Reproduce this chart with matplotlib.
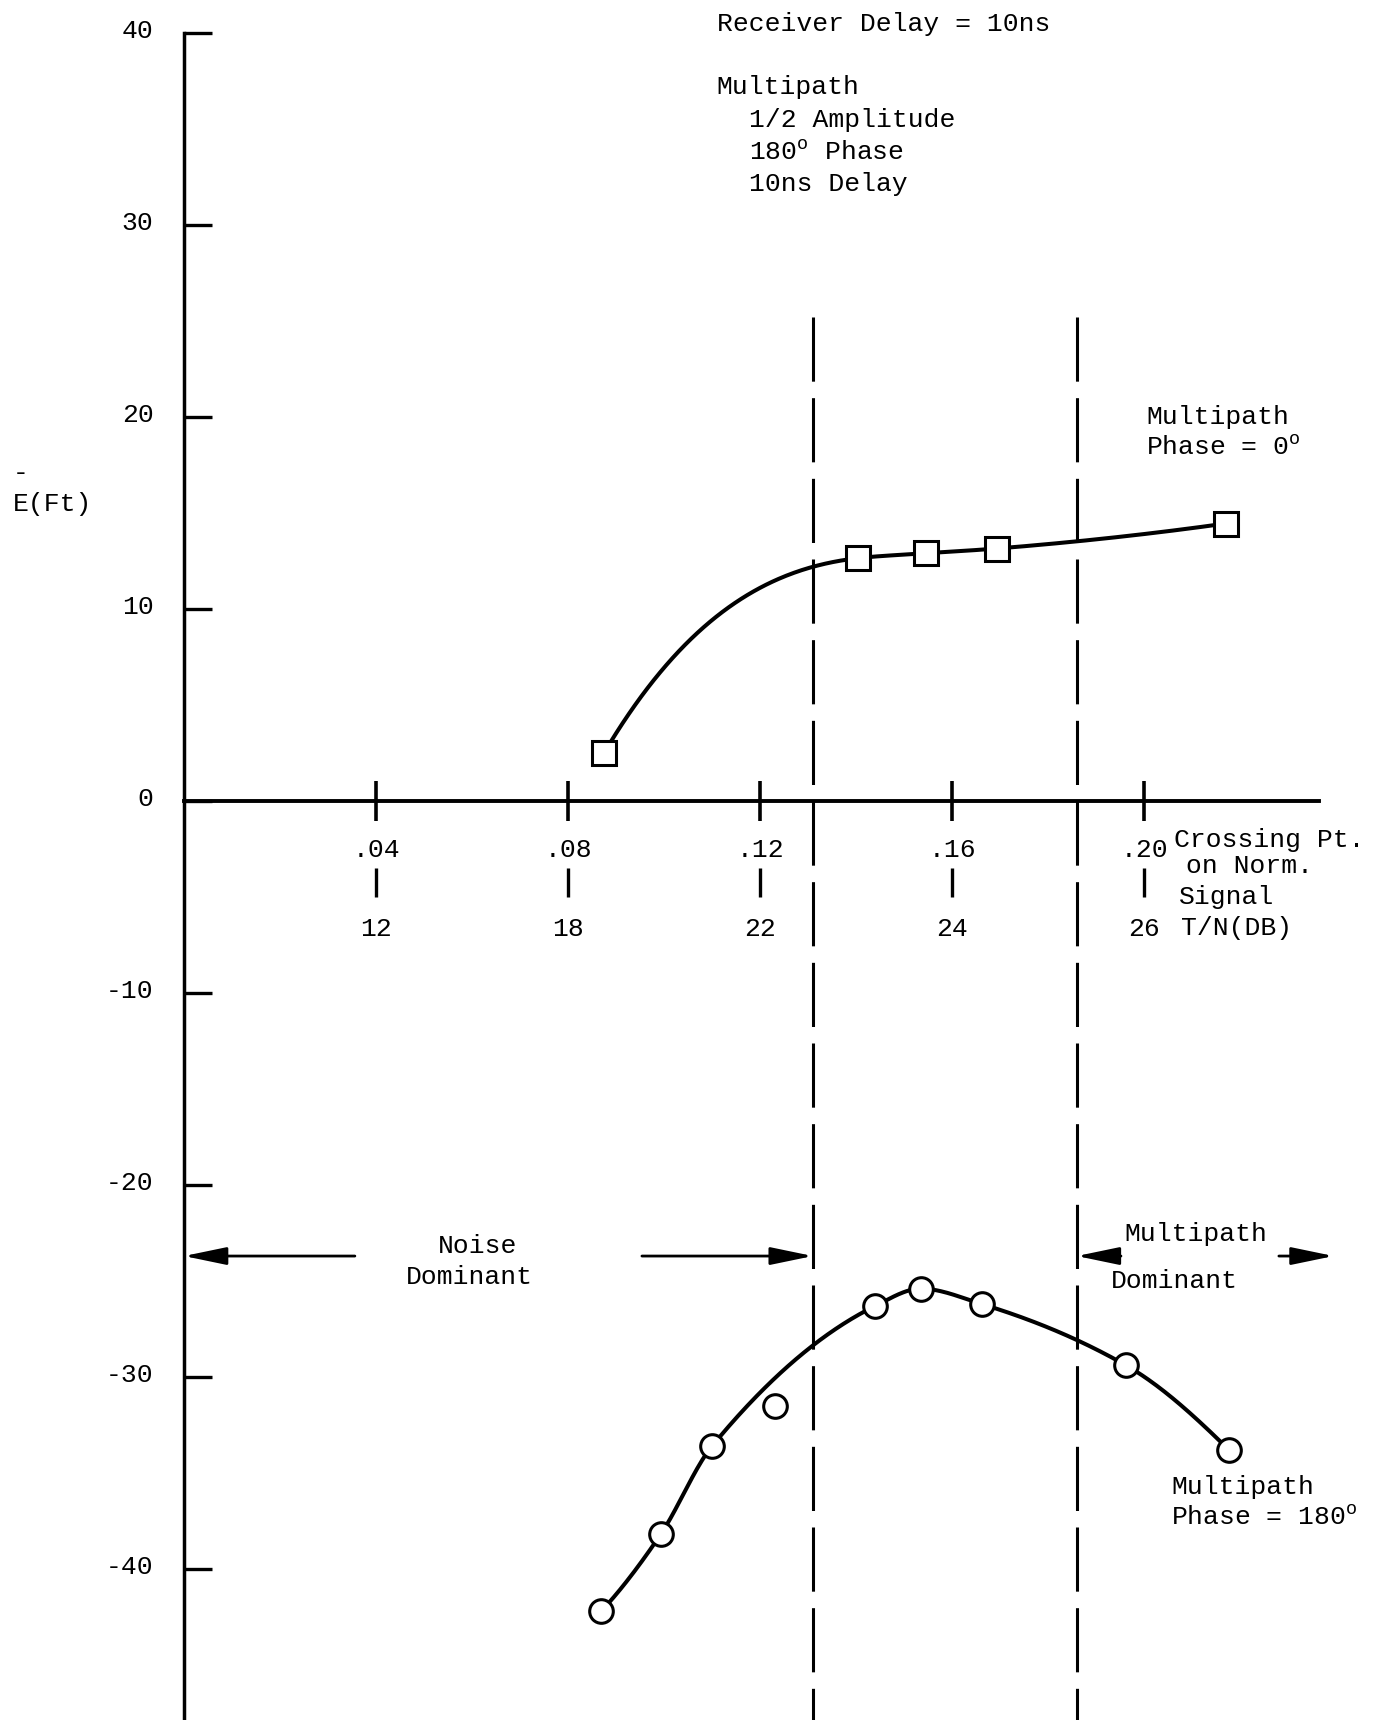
import numpy as np
import matplotlib
matplotlib.use("Agg")
import matplotlib.pyplot as plt
from matplotlib.transforms import ScaledTranslation

plt.rcParams["font.family"] = ["Liberation Mono", "DejaVu Sans Mono"]
plt.rcParams["mathtext.fontset"] = "custom"
plt.rcParams["mathtext.rm"] = "Liberation Mono"
plt.rcParams["axes.unicode_minus"] = False

# ---- data -------------------------------------------------------------
crossing_ticks = [0.04, 0.08, 0.12, 0.16, 0.20]
crossing_labels = [".04", ".08", ".12", ".16", ".20"]
tn_db_labels = ["12", "18", "22", "24", "26"]
err_ticks = [40, 30, 20, 10, 0, -10, -20, -30, -40]

# multipath phase = 0 deg (squares)
phase0_x = [0.0875, 0.1405, 0.1545, 0.1693, 0.2170]
phase0_err = [2.5, 12.65, 12.9, 13.15, 14.45]

# multipath phase = 180 deg (circles); one point lies off the faired curve
phase180_x = [0.0869, 0.0993, 0.1100, 0.1231, 0.1440, 0.1535, 0.1662, 0.1963, 0.2177]
phase180_err = [-42.2, -38.2, -33.6, -31.5, -26.3, -25.4, -26.2, -29.4, -33.8]
phase180_on_curve = [True, True, True, False, True, True, True, True, True]

# boundaries between noise-dominant and multipath-dominant regions
region_bounds = [0.131, 0.186]
region_arrow_err = -23.7


def pchip(x, y, xs, start_gain=None):
    """Shape-preserving piecewise cubic Hermite curve through (x, y).

    start_gain, if given, sets the tangent at the first point to that
    multiple of the first secant slope (a faster initial rise)."""
    x = np.asarray(x, float)
    y = np.asarray(y, float)
    h = np.diff(x)
    d = np.diff(y) / h
    n = len(x)
    m = np.zeros(n)
    for k in range(1, n - 1):
        if d[k - 1] * d[k] > 0:
            w1 = 2 * h[k] + h[k - 1]
            w2 = h[k] + 2 * h[k - 1]
            m[k] = (w1 + w2) / (w1 / d[k - 1] + w2 / d[k])

    def end(h0, h1, d0, d1):
        mm = ((2 * h0 + h1) * d0 - h0 * d1) / (h0 + h1)
        if np.sign(mm) != np.sign(d0):
            return 0.0
        if np.sign(d0) != np.sign(d1) and abs(mm) > abs(3 * d0):
            return 3 * d0
        return mm

    m[0] = end(h[0], h[1], d[0], d[1])
    if start_gain is not None:
        m[0] = start_gain * d[0]
    m[-1] = end(h[-1], h[-2], d[-1], d[-2])
    idx = np.clip(np.searchsorted(x, xs) - 1, 0, n - 2)
    t = (xs - x[idx]) / h[idx]
    h00 = 2 * t**3 - 3 * t**2 + 1
    h10 = t**3 - 2 * t**2 + t
    h01 = -2 * t**3 + 3 * t**2
    h11 = t**3 - t**2
    return (h00 * y[idx] + h10 * h[idx] * m[idx]
            + h01 * y[idx + 1] + h11 * h[idx] * m[idx + 1])


# ---- figure / axes ----------------------------------------------------
W, H = 1374, 1720
fig = plt.figure(figsize=(W / 100, H / 100), dpi=100)
ax = fig.add_axes([0, 0, 1, 1])
ax.patch.set_visible(False)

x_origin_px, y_origin_px = 184, 801
px_per_x, px_per_y = 4800.0, 19.2
xlim = (-x_origin_px / px_per_x, (W - x_origin_px) / px_per_x)
ylim = ((y_origin_px - H) / px_per_y, y_origin_px / px_per_y)
ax.set_xlim(*xlim)
ax.set_ylim(*ylim)

for s in ("top", "right"):
    ax.spines[s].set_visible(False)
ax.spines["left"].set_position(("data", 0))
ax.spines["bottom"].set_position(("data", 0))
ax.spines["left"].set_bounds(ylim[0], 40)
ax.spines["bottom"].set_bounds(0, 0.2365)
ax.spines["left"].set_linewidth(2.5)
ax.spines["bottom"].set_linewidth(2.8)

FS = 19
ax.set_yticks(err_ticks, [str(v) for v in err_ticks])
ax.tick_params(axis="y", direction="in", length=20, width=2.4, pad=22,
               labelsize=FS)
shift_up = ScaledTranslation(0, 3 / 72, fig.dpi_scale_trans)
for lab in ax.get_yticklabels():
    lab.set_transform(lab.get_transform() + shift_up)

ax.set_xticks(crossing_ticks, crossing_labels)
ax.tick_params(axis="x", direction="inout", length=29, width=2.6, pad=12,
               labelsize=FS)

# second row: signal-to-noise ratio in dB under each crossing-point tick
sec = ax.secondary_xaxis(1 - 868 / H)
sec.set_xticks(crossing_ticks, tn_db_labels)
sec.tick_params(axis="x", direction="out", length=21, width=2.4, pad=14,
                labelsize=FS)
for s in sec.spines.values():
    s.set_visible(False)

# ---- curves -----------------------------------------------------------
xs0 = np.linspace(phase0_x[0], phase0_x[-1], 400)
ax.plot(xs0, pchip(phase0_x, phase0_err, xs0, start_gain=2.2), color="black",
        lw=2.9, solid_capstyle="round", zorder=2)
ax.plot(phase0_x, phase0_err, ls="none", marker="s", ms=17, mfc="white",
        mec="black", mew=2.2, zorder=3)

cx = [x for x, on in zip(phase180_x, phase180_on_curve) if on]
cy = [y for y, on in zip(phase180_err, phase180_on_curve) if on]
xs1 = np.linspace(cx[0], cx[-1], 400)
ax.plot(xs1, pchip(cx, cy, xs1), color="black", lw=2.9,
        solid_capstyle="round", zorder=2)
ax.plot(phase180_x, phase180_err, ls="none", marker="o", ms=17, mfc="white",
        mec="black", mew=2.2, zorder=3)

# region boundaries
for b in region_bounds:
    ax.plot([b, b], [25.2, ylim[0]], color="black", lw=2.2,
            dashes=(21, 5.4), zorder=1)

# ---- region arrows ----------------------------------------------------
arrow_kw = dict(arrowstyle="-|>,head_length=1.3,head_width=0.27",
                color="black", lw=2.0, mutation_scale=20,
                shrinkA=0, shrinkB=0)


def arrow(x_from, x_to):
    ax.annotate("", xy=(x_to, region_arrow_err),
                xytext=(x_from, region_arrow_err), arrowprops=arrow_kw)


arrow(0.0356, 0.0)
arrow(0.0954, region_bounds[0])
arrow(0.1952, region_bounds[1])
arrow(0.2281, 0.2395)

ax.text(0.0612, -23.18, "Noise", fontsize=FS, ha="center", va="center")
ax.text(0.0594, -24.79, "Dominant", fontsize=FS, ha="center", va="center")
ax.text(0.2108, -22.55, "Multipath", fontsize=FS, ha="center", va="center")
ax.text(0.2063, -25.0, "Dominant", fontsize=FS, ha="center", va="center")

# ---- annotations ------------------------------------------------------
deg = "$^{\\mathrm{o}}$"
ax.text(0.1110, 40.47, "Receiver Delay = 10ns", fontsize=FS, va="center")
ax.text(0.1110, 37.19, "Multipath", fontsize=FS, va="center")
ax.text(0.1177, 35.47, "1/2 Amplitude", fontsize=FS, va="center")
ax.text(0.1177, 33.80, "180" + deg + " Phase", fontsize=FS, va="center")
ax.text(0.1177, 32.14, "10ns Delay", fontsize=FS, va="center")

ax.text(0.2004, 20.0, "Multipath", fontsize=FS, va="center")
ax.text(0.2004, 18.39, "Phase = 0" + deg, fontsize=FS, va="center")

ax.text(0.2056, -35.73, "Multipath", fontsize=FS, va="center")
ax.text(0.2056, -37.34, "Phase = 180" + deg, fontsize=FS, va="center")

ax.text(0.2063, -2.03, "Crossing Pt.", fontsize=FS, va="center")
ax.text(0.2088, -3.39, "on Norm.", fontsize=FS, va="center")
ax.text(0.2073, -5.0, "Signal", fontsize=FS, va="center")
ax.text(0.2077, -6.61, "T/N(DB)", fontsize=FS, va="center")

# y-axis label: mean error in feet
ax.text(-0.0356, 15.47, "E(Ft)", fontsize=FS, va="center")
ax.text(-0.0340, 16.72, "-", fontsize=FS, ha="center", va="baseline")

fig.savefig("out.png", dpi=100)
